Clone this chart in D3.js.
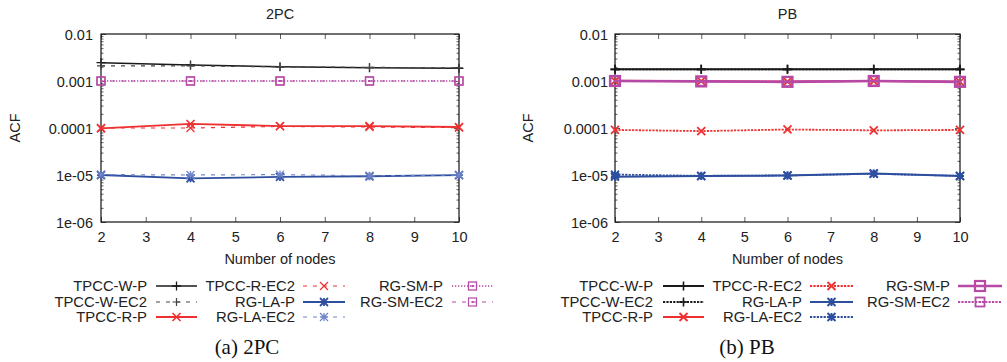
<!DOCTYPE html>
<html><head><meta charset="utf-8">
<script src="https://cdn.jsdelivr.net/npm/d3@7"></script>
<style>body{margin:0;background:#fff}svg{display:block}</style>
</head><body>
<svg id="c" width="1007" height="362"></svg>
<script>
// ---------- data ----------
const nodes = [2, 4, 6, 8, 10];
const xTicks = [2, 3, 4, 5, 6, 7, 8, 9, 10];
const yTicks = [1e-6, 1e-5, 1e-4, 1e-3, 1e-2];
const yTickLabels = ["1e-06", "1e-05", "0.0001", "0.001", "0.01"];
const seriesNames = ["TPCC-W-P", "TPCC-W-EC2", "TPCC-R-P", "TPCC-R-EC2", "RG-LA-P", "RG-LA-EC2", "RG-SM-P", "RG-SM-EC2"];
const panelTitles = ["2PC", "PB"];
const captions = ["(a) 2PC", "(b) PB"];
const xLabel = "Number of nodes";
const yLabel = "ACF";

// 2PC panel
const pc_tpccWP   = [0.00245, 0.0022, 0.0020, 0.00192, 0.00186];
const pc_tpccWEC2 = [0.0021, 0.0021, 0.0020, 0.00195, 0.0019];
const pc_tpccRP   = [0.000098, 0.000122, 0.000110, 0.000110, 0.000105];
const pc_tpccREC2 = [0.000100, 0.000100, 0.000108, 0.000105, 0.000102];
const pc_rgLAP    = [0.0000100, 0.0000085, 0.0000091, 0.0000094, 0.0000099];
const pc_rgLAEC2  = [0.0000102, 0.0000100, 0.0000102, 0.0000096, 0.0000100];
const pc_rgSMP    = [0.001, 0.001, 0.001, 0.001, 0.001];
const pc_rgSMEC2  = [0.001, 0.001, 0.001, 0.001, 0.001];

// PB panel
const pb_tpccWP   = [0.00177, 0.00177, 0.00177, 0.00177, 0.00177];
const pb_tpccWEC2 = [0.00177, 0.00177, 0.00177, 0.00177, 0.00177];
const pb_tpccRP   = [0.00101, 0.00099, 0.00097, 0.00100, 0.00096];
const pb_tpccREC2 = [0.000091, 0.000086, 0.000093, 0.000089, 0.000091];
const pb_rgLAP    = [0.0000092, 0.0000095, 0.0000097, 0.0000108, 0.0000095];
const pb_rgLAEC2  = [0.0000102, 0.0000096, 0.0000098, 0.0000106, 0.0000096];
const pb_rgSMP    = [0.00100, 0.00098, 0.00096, 0.00100, 0.00096];
const pb_rgSMEC2  = [0.00100, 0.00099, 0.00097, 0.00100, 0.00097];

const panelData = [
  [pc_tpccWP, pc_tpccWEC2, pc_tpccRP, pc_tpccREC2, pc_rgLAP, pc_rgLAEC2, pc_rgSMP, pc_rgSMEC2],
  [pb_tpccWP, pb_tpccWEC2, pb_tpccRP, pb_tpccREC2, pb_rgLAP, pb_rgLAEC2, pb_rgSMP, pb_rgSMEC2]
];

// ---------- styles ----------
const BLACK = "#1a1a1a", RED = "#ee3030", BLUE = "#2e4f9f", LBLUE = "#7086c8", MAG = "#b64aa6";
const markers = ["plus", "plus", "cross", "cross", "star", "star", "square", "square"];
const styles = [
  [ // 2PC
    {c: BLACK, w: 1.5, d: null, ms: 4.5, mw: 1.3},
    {c: "#444", w: 1.2, d: "4,6", ms: 4, mw: 1.2},
    {c: RED, w: 1.8, d: null, ms: 4, mw: 1.6},
    {c: RED, w: 1.2, d: "4,6", ms: 4, mw: 1.2},
    {c: BLUE, w: 1.8, d: null, ms: 4, mw: 1.8},
    {c: LBLUE, w: 1.2, d: "4,6", ms: 4, mw: 1.3},
    {c: MAG, w: 1.3, d: "1.3,1.7", ms: 4, mw: 1.3},
    {c: MAG, w: 1.2, d: "4,6", ms: 4, mw: 1.2}
  ],
  [ // PB
    {c: BLACK, w: 2, d: null, ms: 4.5, mw: 1.6},
    {c: BLACK, w: 1.8, d: "2.2,1.2", ms: 4.5, mw: 1.6},
    {c: RED, w: 2, d: null, ms: 4, mw: 1.8},
    {c: RED, w: 1.8, d: "2.2,1.2", ms: 4, mw: 1.8},
    {c: BLUE, w: 2, d: null, ms: 4, mw: 1.9},
    {c: BLUE, w: 1.8, d: "2.2,1.2", ms: 4, mw: 1.9},
    {c: MAG, w: 2.6, d: null, ms: 5, mw: 2.2},
    {c: MAG, w: 1.8, d: "2.2,1.2", ms: 4.5, mw: 1.8}
  ]
];

const layout = [
  {x0: 101, x1: 459, ylab: 93, acf: 15, capX: 247,
   legLabel: [147, 295, 443], legS: [[156, 197], [303, 345], [452, 493]]},
  {x0: 615, x1: 960, ylab: 608, acf: 528, capX: 747,
   legLabel: [653, 802, 950], legS: [[663, 704], [810, 853], [958, 1002]]}
];
const yTop = 34, yBot = 222;
const legRows = [286, 302, 317];
const legCols = [0, 0, 0, 1, 1, 1, 2, 2];
const legRowIdx = [0, 1, 2, 0, 1, 2, 0, 1];
const FONT = "'Liberation Sans', Arial, sans-serif";

const svg = d3.select("#c");

function drawMarker(g, type, x, y, s, color, sw) {
  if (type === "plus") {
    g.append("path").attr("d", `M${x - s},${y}H${x + s}M${x},${y - s}V${y + s}`)
      .attr("stroke", color).attr("stroke-width", sw).attr("fill", "none");
  } else if (type === "cross") {
    g.append("path").attr("d", `M${x - s},${y - s}L${x + s},${y + s}M${x - s},${y + s}L${x + s},${y - s}`)
      .attr("stroke", color).attr("stroke-width", sw).attr("fill", "none");
  } else if (type === "star") {
    g.append("path").attr("d", `M${x - s},${y}H${x + s}M${x},${y - s}V${y + s}M${x - s},${y - s}L${x + s},${y + s}M${x - s},${y + s}L${x + s},${y - s}`)
      .attr("stroke", color).attr("stroke-width", sw).attr("fill", "none");
  } else if (type === "square") {
    g.append("rect").attr("x", x - s).attr("y", y - s).attr("width", 2 * s).attr("height", 2 * s)
      .attr("stroke", color).attr("stroke-width", sw).attr("fill", "none");
    g.append("rect").attr("x", x - 1).attr("y", y - 1).attr("width", 2).attr("height", 2).attr("fill", color);
  }
}

layout.forEach((L, p) => {
  const x = d3.scaleLinear().domain([2, 10]).range([L.x0, L.x1]);
  const y = d3.scaleLog().domain([1e-6, 1e-2]).range([yBot, yTop]);
  const g = svg.append("g");

  // minor y ticks
  const minor = [];
  yTicks.slice(0, -1).forEach(t => { for (let k = 2; k <= 9; k++) minor.push(t * k); });

  const axL = d3.axisLeft(y).tickValues(yTicks).tickSize(-5).tickFormat((d, i) => yTickLabels[i]);
  const axLg = g.append("g").attr("transform", `translate(${L.x0},0)`).call(axL);
  const axLm = g.append("g").attr("transform", `translate(${L.x0},0)`)
    .call(d3.axisLeft(y).tickValues(minor).tickSize(-2.5).tickFormat(""));
  const axR = g.append("g").attr("transform", `translate(${L.x1},0)`)
    .call(d3.axisRight(y).tickValues(yTicks).tickSize(-5).tickFormat(""));
  const axRm = g.append("g").attr("transform", `translate(${L.x1},0)`)
    .call(d3.axisRight(y).tickValues(minor).tickSize(-2.5).tickFormat(""));
  const axB = g.append("g").attr("transform", `translate(0,${yBot})`)
    .call(d3.axisBottom(x).tickValues(xTicks).tickSize(-5).tickFormat(d3.format("d")));
  const axT = g.append("g").attr("transform", `translate(0,${yTop})`)
    .call(d3.axisTop(x).tickValues(xTicks).tickSize(-5).tickFormat(""));
  [axLg, axLm, axR, axRm, axB, axT].forEach(a => {
    a.select(".domain").remove();
    a.selectAll(".tick line").attr("stroke", "#333").attr("stroke-width", 0.8);
  });
  axLg.selectAll(".tick text").attr("x", L.ylab - L.x0).attr("dx", 0).attr("dy", "0.35em")
    .attr("font-family", FONT).attr("font-size", 14.5).attr("fill", "#222");
  axB.selectAll(".tick text").attr("y", 20).attr("dy", 0)
    .attr("font-family", FONT).attr("font-size", 14.5).attr("fill", "#222");

  // frame
  g.append("rect").attr("x", L.x0).attr("y", yTop).attr("width", L.x1 - L.x0).attr("height", yBot - yTop)
    .attr("fill", "none").attr("stroke", "#111").attr("stroke-width", 1.2);

  // series
  const line = d3.line().x((d, i) => x(nodes[i])).y(d => y(d));
  panelData[p].forEach((vals, si) => {
    const st = styles[p][si];
    const sg = g.append("g");
    sg.append("path").datum(vals).attr("d", line).attr("fill", "none")
      .attr("stroke", st.c).attr("stroke-width", st.w)
      .attr("stroke-dasharray", st.d);
    vals.forEach((v, i) => drawMarker(sg, markers[si], x(nodes[i]), y(v), st.ms, st.c, st.mw));
  });

  // titles & labels
  g.append("text").attr("x", (L.x0 + L.x1) / 2).attr("y", 19).attr("text-anchor", "middle")
    .attr("font-family", FONT).attr("font-size", 14.5).attr("fill", "#222").text(panelTitles[p]);
  g.append("text").attr("transform", `translate(${L.acf + 5},128) rotate(-90)`).attr("text-anchor", "middle")
    .attr("font-family", FONT).attr("font-size", 14.5).attr("fill", "#222").text(yLabel);
  g.append("text").attr("x", (L.x0 + L.x1) / 2).attr("y", 264).attr("text-anchor", "middle")
    .attr("font-family", FONT).attr("font-size", 14.5).attr("fill", "#222").text(xLabel);

  // legend
  seriesNames.forEach((name, si) => {
    const col = legCols[si], ry = legRows[legRowIdx[si]];
    const st = styles[p][si];
    g.append("text").attr("x", L.legLabel[col]).attr("y", ry + 5).attr("text-anchor", "end")
      .attr("font-family", FONT).attr("font-size", 14.8).attr("fill", "#222").text(name);
    const [sx0, sx1] = L.legS[col];
    g.append("line").attr("x1", sx0).attr("x2", sx1).attr("y1", ry).attr("y2", ry)
      .attr("stroke", st.c).attr("stroke-width", st.w).attr("stroke-dasharray", st.d);
    drawMarker(g, markers[si], (sx0 + sx1) / 2, ry, st.ms, st.c, st.mw);
  });

  // caption
  g.append("text").attr("x", L.capX).attr("y", 354).attr("text-anchor", "middle")
    .attr("font-family", "'Liberation Serif', 'Times New Roman', serif").attr("font-size", 21)
    .attr("fill", "#111").text(captions[p]);
});
</script>
</body></html>
